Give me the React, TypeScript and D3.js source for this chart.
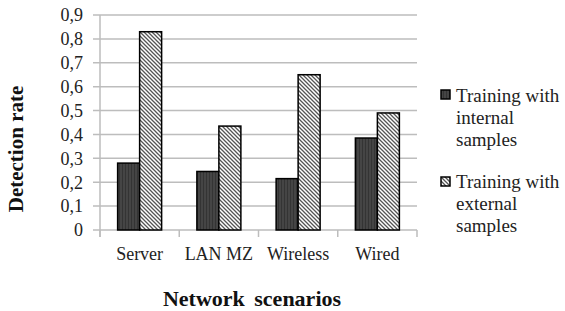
import * as d3 from 'd3';
import React from 'react';

const categories = ['Server', 'LAN MZ', 'Wireless', 'Wired'];
const internalValues = [0.28, 0.245, 0.215, 0.385];
const externalValues = [0.83, 0.435, 0.65, 0.49];
const yTicks = [0, 0.1, 0.2, 0.3, 0.4, 0.5, 0.6, 0.7, 0.8, 0.9];
const legendInternal = ['Training with', 'internal', 'samples'];
const legendExternal = ['Training with', 'external', 'samples'];

const W = 565;
const H = 311;
const FONT = "'Liberation Serif', 'DejaVu Serif', serif";

export default function App() {
    const x = d3.scaleBand<string>().domain(categories).range([100, 417]);
    const y = d3.scaleLinear().domain([0, 0.9]).range([230, 15]);
    const barW = 22;
    const offset = (x.bandwidth() - 2 * barW) / 2;
    const fmt = (v: number) => (v === 0 ? '0' : d3.format('.1f')(v).replace('.', ','));

    // tick boundaries between categories
    const bounds = [...categories.map((c) => x(c) as number), 417];
    const txt = { fontFamily: FONT };

    return (
        <svg
            width={W}
            height={H}
            style={{ position: 'absolute', left: 0, top: 0, background: '#fff' }}
        >
            <defs>
                <pattern id="dark" patternUnits="userSpaceOnUse" width={3} height={3}>
                    <rect width={3} height={3} fill="#343434" />
                    <line x1={1} y1={0} x2={1} y2={3} stroke="#555" strokeWidth={1} />
                </pattern>
                <pattern id="hatch" patternUnits="userSpaceOnUse" width={4} height={4}>
                    <rect width={4} height={4} fill="#fff" />
                    <path d="M0,0 L4,4 M-1,3 L1,5 M3,-1 L5,1" stroke="#555" strokeWidth={1.3} />
                </pattern>
            </defs>

            {/* gridlines */}
            {yTicks.map((t) => (
                <line
                    key={t}
                    x1={93}
                    x2={417}
                    y1={y(t)}
                    y2={y(t)}
                    stroke="#bdbdbd"
                    strokeWidth={1.5}
                />
            ))}
            {/* y axis */}
            <line x1={100} x2={100} y1={15} y2={237} stroke="#bdbdbd" strokeWidth={1.5} />
            {bounds.map((b, i) => (
                <line key={i} x1={b} x2={b} y1={230} y2={237} stroke="#bdbdbd" strokeWidth={1.5} />
            ))}

            {yTicks.map((t) => (
                <text
                    key={t}
                    x={83}
                    y={y(t)}
                    dy="0.35em"
                    textAnchor="end"
                    fontSize={18}
                    fill="#222"
                    style={txt}
                >
                    {fmt(t)}
                </text>
            ))}

            {/* bars */}
            {categories.map((c, i) => {
                const x0 = (x(c) as number) + offset;
                return (
                    <g key={c}>
                        <rect
                            x={x0}
                            y={y(internalValues[i])}
                            width={barW}
                            height={y(0) - y(internalValues[i])}
                            fill="url(#dark)"
                            stroke="#000"
                            strokeWidth={1.5}
                        />
                        <rect
                            x={x0 + barW}
                            y={y(externalValues[i])}
                            width={barW}
                            height={y(0) - y(externalValues[i])}
                            fill="url(#hatch)"
                            stroke="#000"
                            strokeWidth={1.5}
                        />
                    </g>
                );
            })}

            {categories.map((c) => (
                <text
                    key={c}
                    x={(x(c) as number) + x.bandwidth() / 2}
                    y={260}
                    textAnchor="middle"
                    fontSize={18}
                    fill="#222"
                    style={txt}
                >
                    {c}
                </text>
            ))}

            {/* axis titles */}
            <text
                x={252}
                y={306}
                textAnchor="middle"
                fontSize={22}
                fontWeight="bold"
                fill="#111"
                wordSpacing={4}
                style={txt}
            >
                Network scenarios
            </text>
            <text
                transform="translate(23,149) rotate(-90)"
                textAnchor="middle"
                fontSize={21}
                fontWeight="bold"
                fill="#111"
                style={txt}
            >
                Detection rate
            </text>

            {/* legend */}
            <rect x={441} y={90} width={9} height={9} fill="url(#dark)" stroke="#000" strokeWidth={1.5} />
            {legendInternal.map((s, i) => (
                <text key={i} x={456} y={101.5 + i * 22} fontSize={19} fill="#222" style={txt}>
                    {s}
                </text>
            ))}
            <rect x={441} y={177} width={9} height={9} fill="url(#hatch)" stroke="#000" strokeWidth={1.5} />
            {legendExternal.map((s, i) => (
                <text key={i} x={456} y={188 + i * 22} fontSize={19} fill="#222" style={txt}>
                    {s}
                </text>
            ))}
        </svg>
    );
}
